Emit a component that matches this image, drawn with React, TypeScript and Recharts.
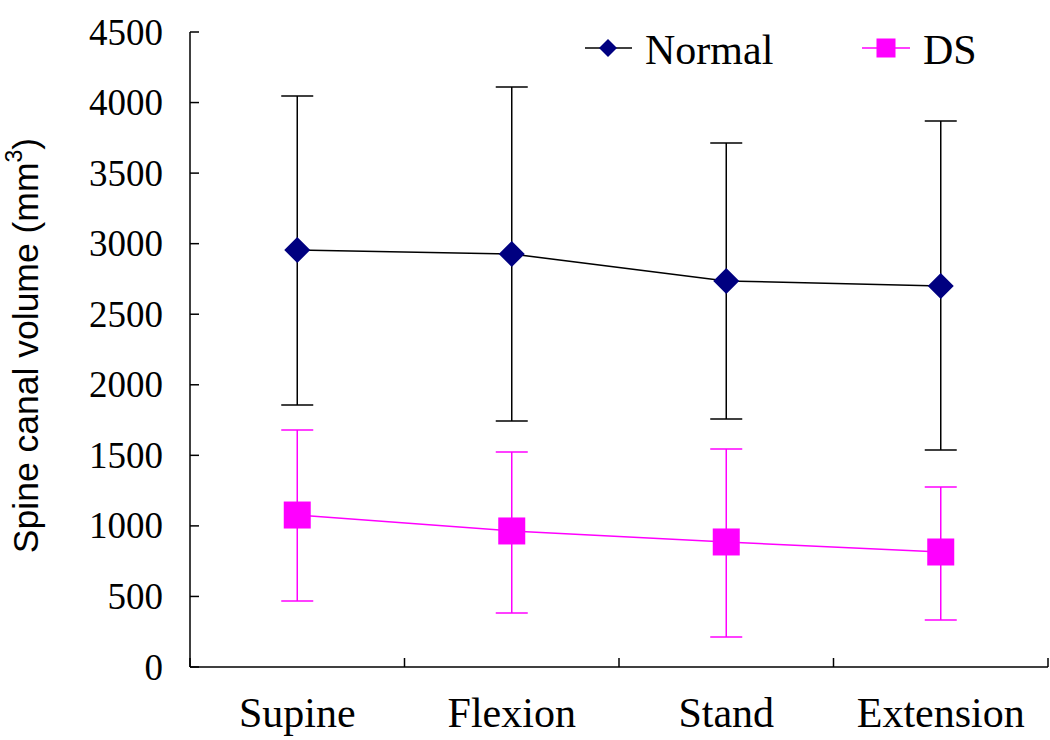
import React from 'react';
import { LineChart, Line, XAxis, YAxis, ErrorBar } from 'recharts';

const categories = ['Supine', 'Flexion', 'Stand', 'Extension'];
const normalMean = [2955, 2927, 2736, 2700];
const normalLow = [1857, 1743, 1757, 1538];
const normalHigh = [4047, 4110, 3713, 3870];
const dsMean = [1077, 964, 886, 815];
const dsLow = [468, 383, 213, 333];
const dsHigh = [1680, 1524, 1545, 1276];
const yTicks = [0, 500, 1000, 1500, 2000, 2500, 3000, 3500, 4000, 4500];
// category centres get labels, boundaries get tick marks
const xTicks = [0, 0.5, 1, 1.5, 2, 2.5, 3, 3.5, 4];

const data = categories.map((name, i) => ({
  name,
  pos: i + 0.5,
  normal: normalMean[i],
  normalErr: [normalMean[i] - normalLow[i], normalHigh[i] - normalMean[i]],
  ds: dsMean[i],
  dsErr: [dsMean[i] - dsLow[i], dsHigh[i] - dsMean[i]],
}));

const NAVY = '#000080';
const PINK = '#FF00FF';
const serif = '"Liberation Serif", "Times New Roman", serif';
const TICK_LEN = 9;
const Y_GAP = 27;

const Diamond = (props: any) => {
  const { cx, cy, size = 13 } = props;
  if (cx == null || cy == null) return null;
  return (
    <path
      key={`d-${cx}`}
      d={`M${cx},${cy - size} L${cx + size},${cy} L${cx},${cy + size} L${cx - size},${cy} Z`}
      fill={NAVY}
    />
  );
};

const Square = (props: any) => {
  const { cx, cy, size = 13.5 } = props;
  if (cx == null || cy == null) return null;
  return <rect key={`s-${cx}`} x={cx - size} y={cy - size} width={size * 2} height={size * 2} fill={PINK} />;
};

const YTick = ({ x, y, payload }: any) => {
  const axisX = x + Y_GAP;
  return (
    <g>
      <line x1={axisX} y1={y} x2={axisX + TICK_LEN} y2={y} stroke="#000" strokeWidth={1.5} />
      <text x={x} y={y} textAnchor="end" dominantBaseline="central" fontFamily={serif} fontSize={37} fill="#000">
        {payload.value}
      </text>
    </g>
  );
};

const XTick = ({ x, y, payload }: any) => {
  const v = payload.value as number;
  if (Number.isInteger(v)) {
    return <line x1={x} y1={y} x2={x} y2={y - TICK_LEN} stroke="#000" strokeWidth={1.5} />;
  }
  return (
    <text x={x} y={y + 60} textAnchor="middle" fontFamily={serif} fontSize={42} fill="#000">
      {categories[Math.floor(v)]}
    </text>
  );
};

const YLabel = ({ viewBox }: any) => {
  const cy = viewBox ? viewBox.y + viewBox.height / 2 : 350;
  const cx = 26;
  return (
    <text
      x={cx}
      y={cy - 4}
      transform={`rotate(-90, ${cx}, ${cy - 4})`}
      textAnchor="middle"
      dominantBaseline="central"
      fontFamily='"Liberation Sans", Arial, sans-serif'
      fontSize={35.5}
      fill="#000"
    >
      Spine canal volume (mm
      <tspan dy={-12} fontSize={23}>3</tspan>
      <tspan dy={12}>)</tspan>
    </text>
  );
};

export default function App() {
  return (
    <div style={{ position: 'absolute', left: 0, top: 0, width: 1050, height: 740, background: '#fff' }}>
      <LineChart
        width={1050}
        height={740}
        data={data}
        margin={{ top: 32, right: 2, bottom: 0, left: 0 }}
      >
        <XAxis
          dataKey="pos"
          type="number"
          domain={[0, 4]}
          ticks={xTicks}
          interval={0}
          height={73}
          tickSize={0}
          tickMargin={0}
          tickLine={false}
          axisLine={{ stroke: '#000', strokeWidth: 1.5 }}
          tick={<XTick />}
        />
        <YAxis
          type="number"
          domain={[0, 4500]}
          ticks={yTicks}
          interval={0}
          width={190}
          tickSize={0}
          tickMargin={Y_GAP}
          tickLine={false}
          axisLine={{ stroke: '#000', strokeWidth: 1.5 }}
          tick={<YTick />}
          label={<YLabel />}
        />
        <Line
          dataKey="normal"
          stroke="#000"
          strokeWidth={1.5}
          dot={<Diamond />}
          activeDot={false}
          isAnimationActive={false}
        >
          <ErrorBar dataKey="normalErr" direction="y" width={16} stroke="#000" strokeWidth={1.5} />
        </Line>
        <Line
          dataKey="ds"
          stroke={PINK}
          strokeWidth={1.5}
          dot={<Square />}
          activeDot={false}
          isAnimationActive={false}
        >
          <ErrorBar dataKey="dsErr" direction="y" width={16} stroke={PINK} strokeWidth={1.5} />
        </Line>
      </LineChart>
      <svg
        width={1050}
        height={100}
        style={{ position: 'absolute', left: 0, top: 0, pointerEvents: 'none' }}
      >
        <line x1={585} y1={48} x2={632} y2={48} stroke="#000" strokeWidth={1.5} />
        <Diamond cx={608} cy={48} size={9} />
        <text x={645} y={64} fontFamily={serif} fontSize={42} fill="#000">Normal</text>
        <line x1={862} y1={48} x2={910} y2={48} stroke={PINK} strokeWidth={1.5} />
        <Square cx={886} cy={48} size={9.5} />
        <text x={923} y={64} fontFamily={serif} fontSize={42} fill="#000">DS</text>
      </svg>
    </div>
  );
}
